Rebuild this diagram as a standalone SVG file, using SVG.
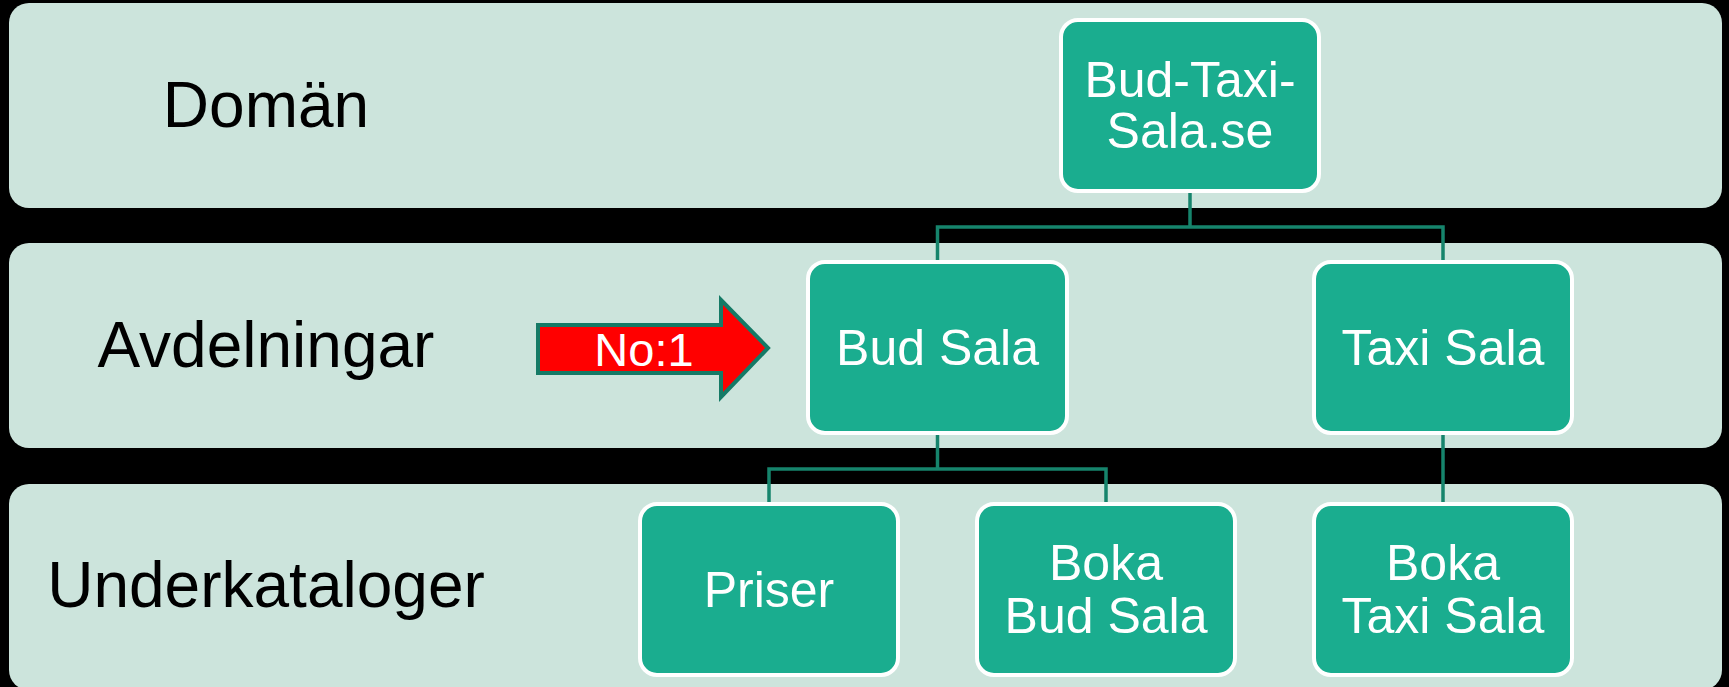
<svg xmlns="http://www.w3.org/2000/svg" width="1729" height="687" viewBox="0 0 1729 687">
<style>
.band{fill:#cce4dc;}
.node{fill:#1aad8f;stroke:#ffffff;stroke-width:4;}
.lbl{font-family:"Liberation Sans",Arial,sans-serif;font-size:64px;fill:#000000;text-anchor:middle;}
.nt{font-family:"Liberation Sans",Arial,sans-serif;font-size:50px;fill:#ffffff;text-anchor:middle;}
.conn{fill:none;stroke:#16846c;stroke-width:3.5;}
</style>
<rect x="0" y="0" width="1729" height="687" fill="#000000"/>
<g id="bands">
<rect class="band" x="9" y="3" width="1713" height="205" rx="20"/>
<rect class="band" x="9" y="243" width="1713" height="205" rx="20"/>
<rect class="band" x="9" y="484" width="1713" height="206" rx="20"/>
</g>
<g id="labels">
<text class="lbl" x="266" y="127">Domän</text>
<text class="lbl" x="266" y="367">Avdelningar</text>
<text class="lbl" x="266" y="607">Underkataloger</text>
</g>
<g id="connectors">
<path class="conn" d="M1190 191 V227 M937.5 262 V227 H1443 V262"/>
<path class="conn" d="M937.5 433 V469 M769 504 V469 H1106 V504"/>
<path class="conn" d="M1443 433 V504"/>
</g>
<g id="arrow">
<polygon points="538,325 721,325 721,300 768,348 721,397 721,373 538,373" fill="#ff0000" stroke="#157a66" stroke-width="4"/>
<text x="644" y="366" font-family="'Liberation Sans',Arial,sans-serif" font-size="47" fill="#ffffff" text-anchor="middle">No:1</text>
</g>
<g id="node-domain">
<rect class="node" x="1061" y="20" width="258" height="171" rx="17"/>
<text class="nt" x="1190" y="97">Bud-Taxi-<tspan x="1190" y="148">Sala.se</tspan></text>
</g>
<g id="node-budsala">
<rect class="node" x="808" y="262" width="259" height="171" rx="17"/>
<text class="nt" x="937.5" y="365">Bud Sala</text>
</g>
<g id="node-taxisala">
<rect class="node" x="1314" y="262" width="258" height="171" rx="17"/>
<text class="nt" x="1443" y="365">Taxi Sala</text>
</g>
<g id="node-priser">
<rect class="node" x="640" y="504" width="258" height="171" rx="17"/>
<text class="nt" x="769" y="607">Priser</text>
</g>
<g id="node-bokabud">
<rect class="node" x="977" y="504" width="258" height="171" rx="17"/>
<text class="nt" x="1106" y="580">Boka<tspan x="1106" y="633">Bud Sala</tspan></text>
</g>
<g id="node-bokataxi">
<rect class="node" x="1314" y="504" width="258" height="171" rx="17"/>
<text class="nt" x="1443" y="580">Boka<tspan x="1443" y="633">Taxi Sala</tspan></text>
</g>
</svg>
